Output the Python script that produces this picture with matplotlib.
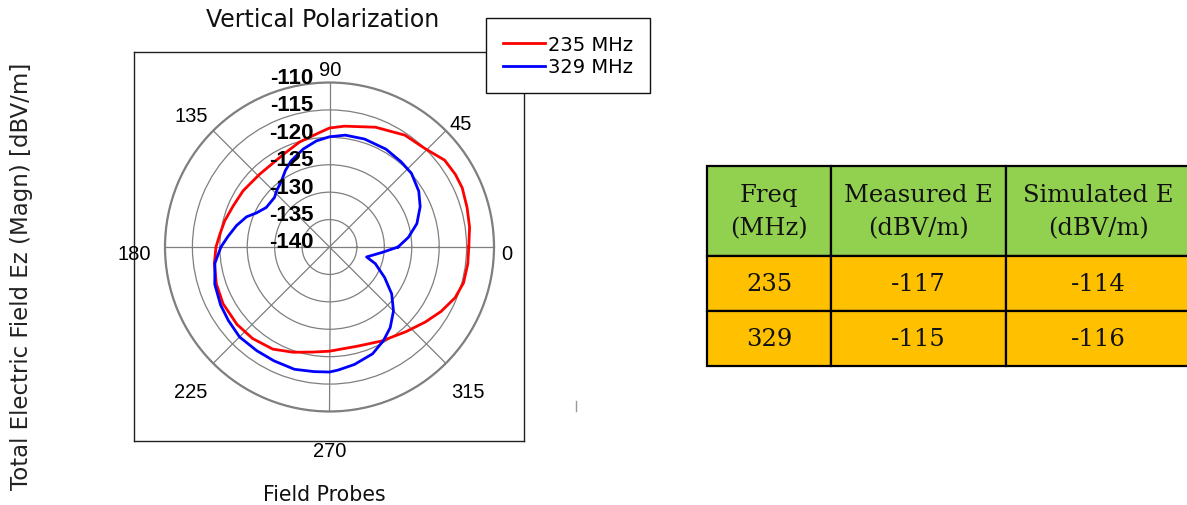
import numpy as np
import matplotlib
matplotlib.use('Agg')
import matplotlib.pyplot as plt
import matplotlib.transforms as mtransforms
from matplotlib.lines import Line2D

# field probe readings, angle in degrees -> magnitude in dBV/m
angles_235 = [0, 8, 16, 24, 30, 37, 46, 56, 69, 83, 90, 97, 106, 116, 134, 147,
              157, 166, 173, 180, 188, 198, 208, 220, 230, 241, 251, 261, 270,
              286, 299, 312, 322, 330, 338, 345, 353, 360]
field_235 = [-114.6, -114.2, -113.9, -113.5, -113.5, -113.7, -115.0, -115.4,
             -116.6, -117.8, -118.3, -119.3, -120.1, -121.1, -121.6, -121.2,
             -120.9, -120.3, -119.9, -119.3, -118.8, -118.3, -118.0, -118.0,
             -118.2, -118.7, -119.7, -120.6, -121.0, -121.2, -120.4, -119.2,
             -117.8, -116.5, -115.3, -114.7, -114.6, -114.6]

angles_329 = [0, 7, 15, 24, 32, 42, 50, 60, 72, 82, 90, 97, 105, 114, 120, 126,
              133, 138, 148, 155, 160, 167, 174, 180, 188, 198, 208, 216, 225,
              235, 244, 254, 263, 270, 274, 282, 292, 300, 307, 315, 323, 331,
              340, 345, 354, 360]
field_329 = [-127.5, -125.5, -123.5, -121.9, -120.8, -119.9, -119.7, -119.4,
             -119.3, -119.4, -119.9, -120.5, -121.5, -122.8, -123.9, -125.1,
             -125.9, -126.5, -126.4, -125.3, -123.9, -122.6, -121.4, -120.2,
             -118.9, -118.0, -117.5, -117.2, -116.8, -116.9, -116.9, -116.8,
             -117.1, -117.2, -117.5, -118.1, -119.0, -120.3, -121.6, -123.5,
             -125.8, -128.5, -131.1, -133.0, -130.4, -127.5]

r_ticks = [-140, -135, -130, -125, -120, -115, -110]
angle_ticks = [0, 45, 90, 135, 180, 225, 270, 315]

# summary table
col_labels = ['Freq\n(MHz)', 'Measured E\n(dBV/m)', 'Simulated E\n(dBV/m)']
freqs = ['235', '329']
measured = ['-117', '-115']
simulated = ['-114', '-116']

W, H = 1187, 506
fig = plt.figure(figsize=(W / 100, H / 100), dpi=100)


def px(x, y):
    return x / W, 1 - y / H


# square frame around the polar plot
frame = fig.add_axes([134 / W, 1 - 442 / H, 390 / W, 389 / H])
frame.set_xticks([])
frame.set_yticks([])
for s in frame.spines.values():
    s.set_linewidth(1.0)
    s.set_color('#222222')

cx, cy, rad = 329.5, 248, 164.5
ax = fig.add_axes([(cx - rad) / W, 1 - (cy + rad) / H, 2 * rad / W, 2 * rad / H],
                  projection='polar')
ax.set_zorder(2)
ax.plot(np.radians(angles_235), field_235, color='#ff0000', lw=2.0, label='235 MHz')
ax.plot(np.radians(angles_329), field_329, color='#0000ff', lw=2.0, label='329 MHz')
ax.set_ylim(-140, -110)
ax.set_yticks(r_ticks[1:])
ax.set_yticklabels([])
ax.set_xticks(np.radians(angle_ticks))
ax.set_xticklabels([])
ax.grid(True, color='#7f7f7f', lw=0.9)
ax.spines['polar'].set_color('#7f7f7f')
ax.spines['polar'].set_linewidth(1.6)

# bold radial labels along the 90 degree line
lab_tr = mtransforms.offset_copy(ax.transData, fig=fig, x=-16, y=5, units='dots')
for r in r_ticks:
    ax.text(np.pi / 2, r, str(r), transform=lab_tr, ha='right', va='center',
            fontsize=16, fontweight='bold', family='Liberation Sans', zorder=5)

# angle labels
angle_pos = {0: (507, 255), 45: (461, 124), 90: (330, 70), 135: (191, 116),
             180: (134, 255), 225: (191, 393), 270: (330, 452), 315: (468, 393)}
for a, (x, y) in angle_pos.items():
    fig.text(*px(x, y), str(a), ha='center', va='center', fontsize=14.5,
             family='Liberation Sans')

fig.text(*px(323, 20), 'Vertical Polarization', ha='center', va='center',
         fontsize=17, family='DejaVu Sans', color='#111111')
fig.text(*px(324, 495), 'Field Probes', ha='center', va='center',
         fontsize=14.8, family='DejaVu Sans', color='#111111')
fig.text(*px(22, 276), 'Total Electric Field Ez (Magn) [dBV/m]', ha='center',
         va='center', rotation=90, fontsize=16.5, family='DejaVu Sans',
         color='#222222')

leg = fig.legend(loc='upper left', bbox_to_anchor=px(486, 19), fancybox=False,
                 edgecolor='#111111', framealpha=1,
                 prop={'family': 'DejaVu Sans', 'size': 14},
                 handlelength=2.2, handletextpad=0.15, labelspacing=0.2,
                 borderpad=0.85, borderaxespad=0)
leg.get_frame().set_linewidth(1.0)
leg.set_zorder(10)

fig.add_artist(Line2D([575.5 / W, 575.5 / W], [1 - 402 / H, 1 - 412 / H],
                      color='#999999', lw=1))

# table, right border runs off the edge of the figure
tax = fig.add_axes([707 / W, 1 - 367 / H, 484 / W, 200 / H])
tax.axis('off')
cells = [[f, m, s] for f, m, s in zip(freqs, measured, simulated)]
tab = tax.table(cellText=[col_labels] + cells, cellLoc='center',
                bbox=[0, 0, 1, 1],
                colWidths=[124, 175, 185])
tab.auto_set_font_size(False)
for (row, col), cell in tab.get_celld().items():
    cell.set_edgecolor('#000000')
    cell.set_linewidth(1.6)
    cell.set_facecolor('#92d050' if row == 0 else '#ffc000')
    cell.set_height(90 if row == 0 else 55)
    cell.get_text().set_fontsize(17.5)
    cell.get_text().set_family('DejaVu Serif')
    cell.get_text().set_color('#111111')
    cell.get_text().set_linespacing(1.6)

fig.savefig('out.png', dpi=100)
